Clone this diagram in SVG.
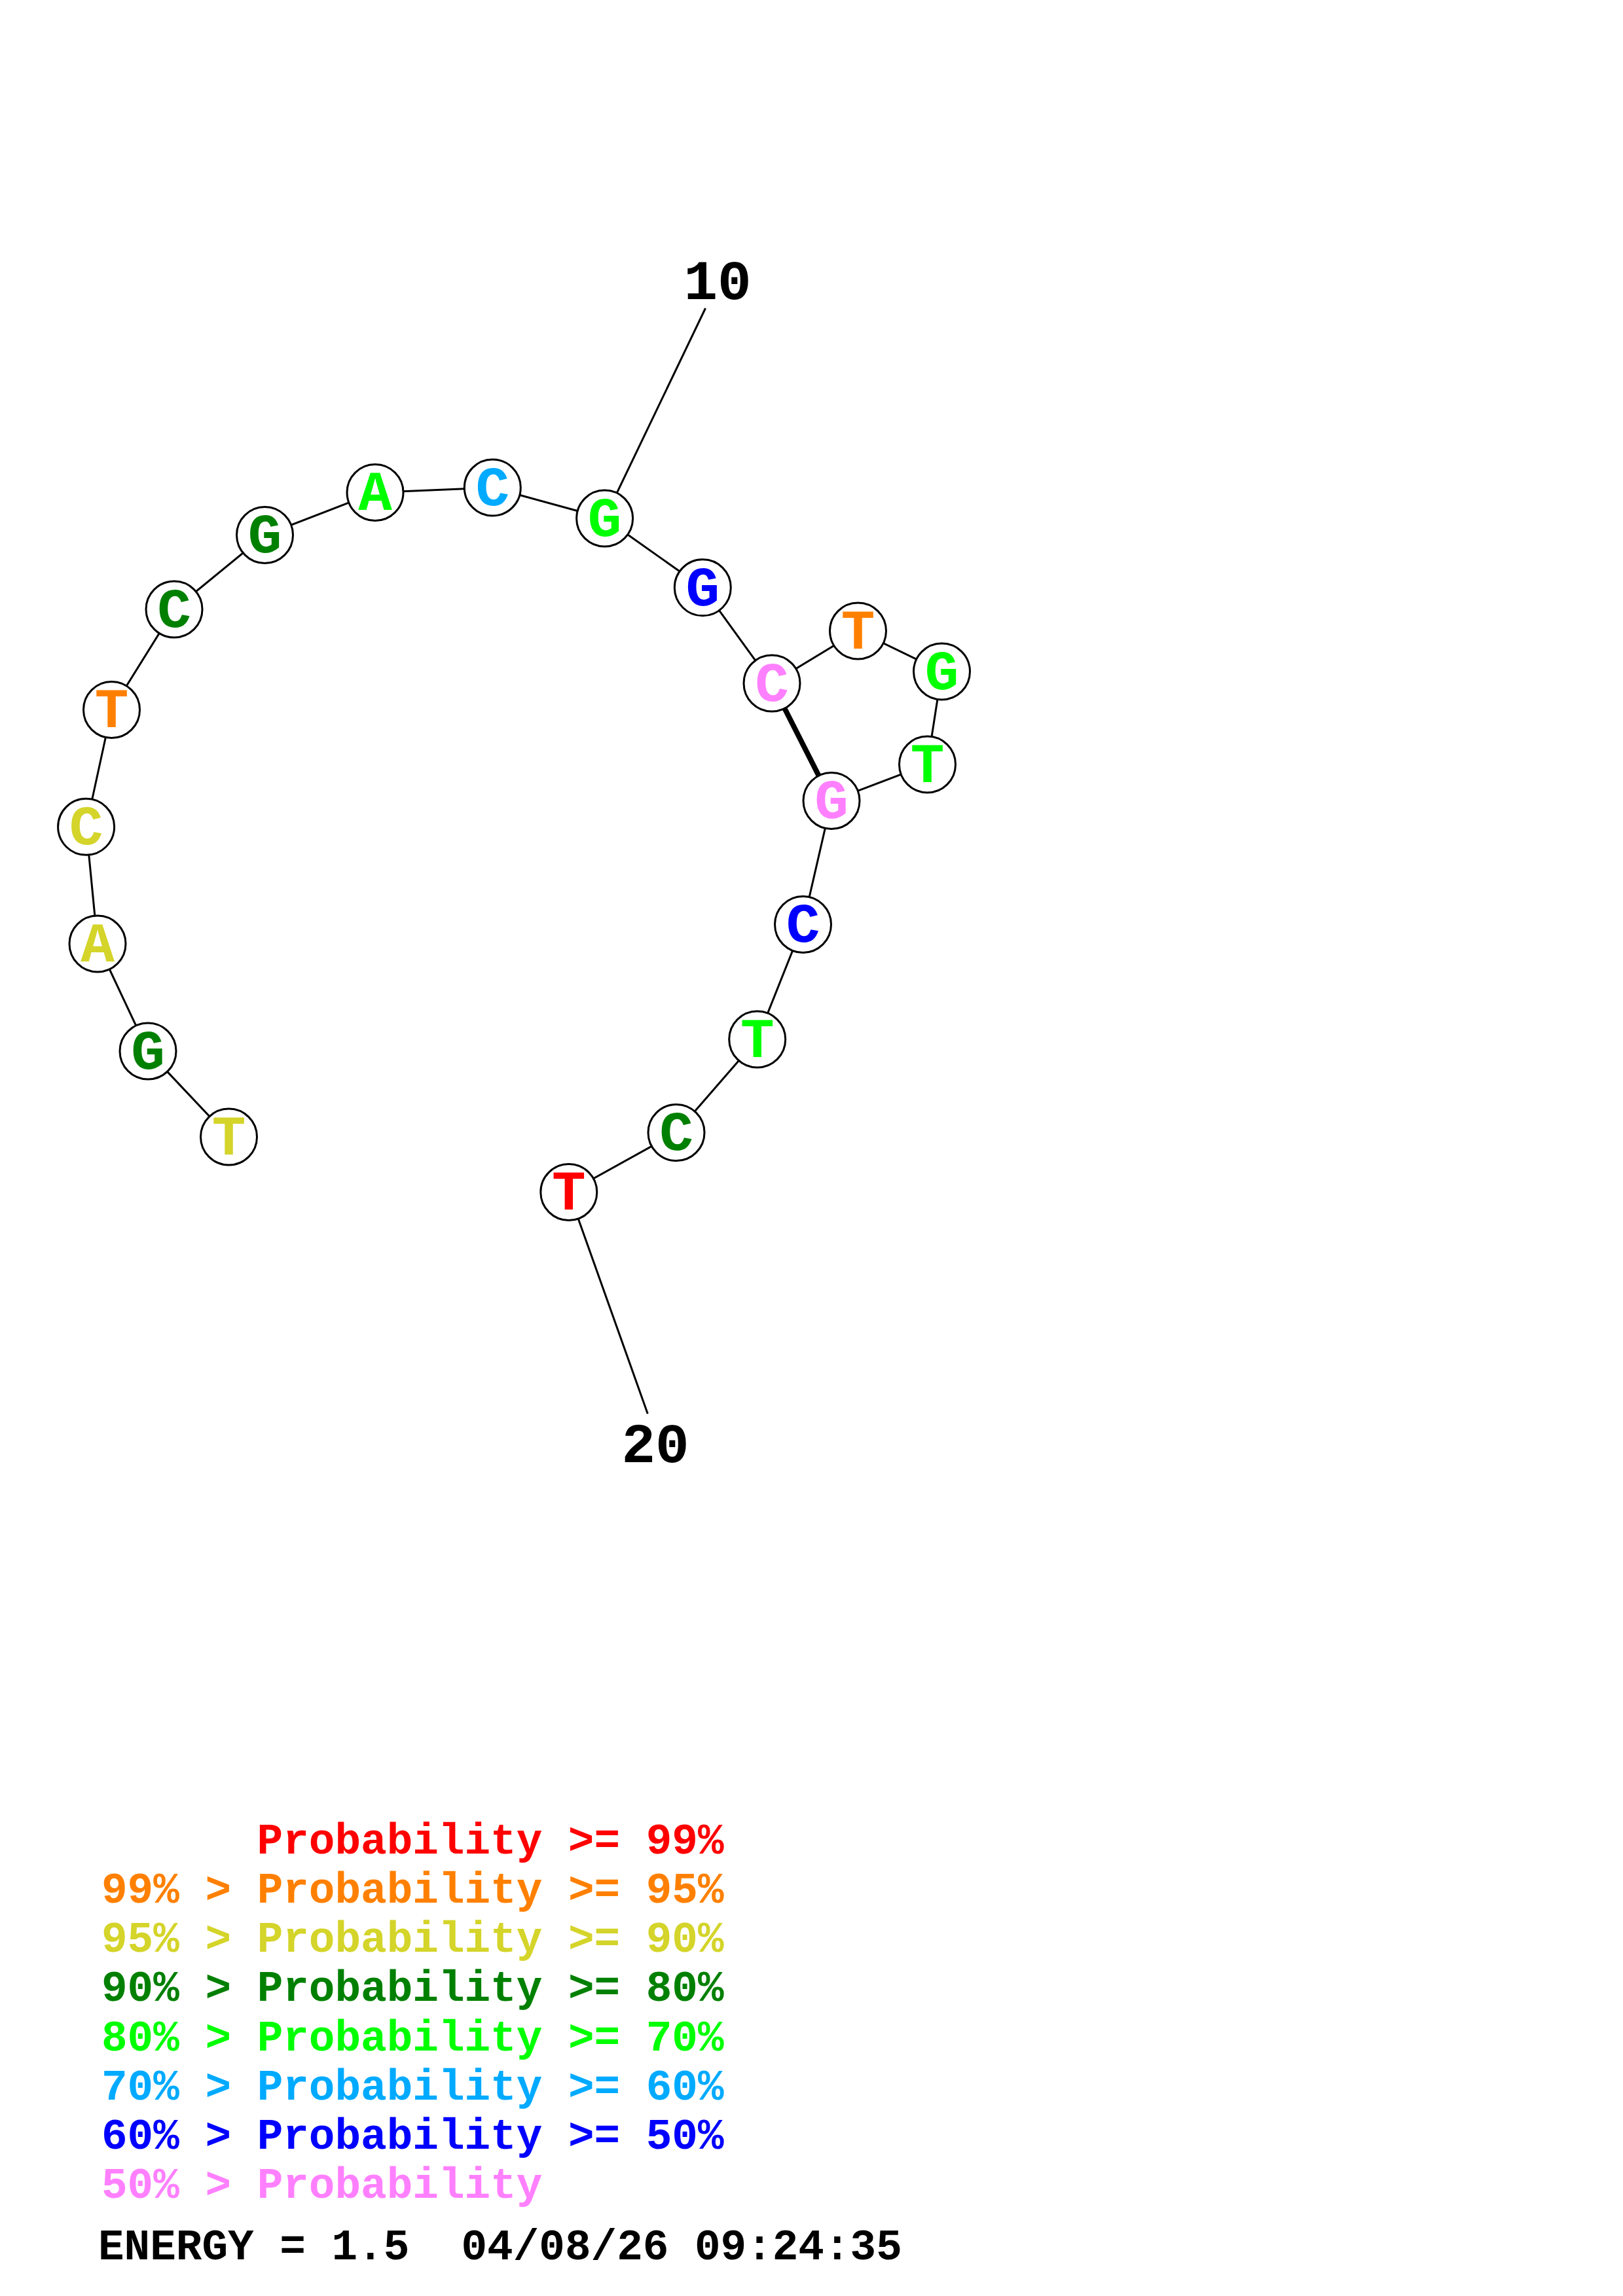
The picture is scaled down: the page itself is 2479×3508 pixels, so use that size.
<svg xmlns="http://www.w3.org/2000/svg" width="2479" height="3508" viewBox="0 0 2479 3508">
<style>
.bg{fill:#ffffff}
.ln{stroke:#000;stroke-width:3;fill:none}
.pair{stroke:#000;stroke-width:8;fill:none}
.nd{fill:#fff;stroke:#000;stroke-width:3}
.b{font-family:"Liberation Mono","Courier New",monospace;font-weight:bold;font-size:86px;text-anchor:middle}
.num{font-family:"Liberation Mono","Courier New",monospace;font-weight:bold;font-size:86px;text-anchor:middle;fill:#000}
.lg{font-family:"Liberation Mono","Courier New",monospace;font-weight:bold;font-size:66px}
.red{fill:#ff0000}.org{fill:#ff8000}.yel{fill:#d4d42a}.dgr{fill:#008000}.grn{fill:#00ff00}.lbl{fill:#00aaff}.blu{fill:#0000ff}.pnk{fill:#ff80ff}.blk{fill:#000}
</style>
<rect class="bg" x="0" y="0" width="2479" height="3508"/>
<g id="connectors">
<polyline class="ln" points="349.5,1737 226,1606 149,1442 131.6,1263.3 170.5,1084.5 266,931 404.5,817.5 573,752.5 752.3,745 923.6,792 1073.3,897.8 1179,1044 1310.5,964 1438.5,1026 1416.5,1168 1270,1223.5 1226.5,1412.5 1156.7,1588 1033,1730.5 868.8,1821.5"/>
<line class="pair" x1="1179" y1="1044" x2="1270" y2="1223.5"/>
<line class="ln" x1="923.6" y1="792" x2="1077.5" y2="471"/>
<line class="ln" x1="868.8" y1="1821.5" x2="989.3" y2="2160"/>
</g>
<g id="label10"><text class="num" x="1096" y="457">10</text></g>
<g id="label20"><text class="num" x="1001" y="2234">20</text></g>
<g id="n1"><circle class="nd" cx="349.5" cy="1737" r="43"/><text class="b yel" x="349.5" y="1764">T</text></g>
<g id="n2"><circle class="nd" cx="226" cy="1606" r="43"/><text class="b dgr" x="226" y="1633">G</text></g>
<g id="n3"><circle class="nd" cx="149" cy="1442" r="43"/><text class="b yel" x="149" y="1469">A</text></g>
<g id="n4"><circle class="nd" cx="131.6" cy="1263.3" r="43"/><text class="b yel" x="131.6" y="1290">C</text></g>
<g id="n5"><circle class="nd" cx="170.5" cy="1084.5" r="43"/><text class="b org" x="170.5" y="1111">T</text></g>
<g id="n6"><circle class="nd" cx="266" cy="931" r="43"/><text class="b dgr" x="266" y="958">C</text></g>
<g id="n7"><circle class="nd" cx="404.5" cy="817.5" r="43"/><text class="b dgr" x="404.5" y="844">G</text></g>
<g id="n8"><circle class="nd" cx="573" cy="752.5" r="43"/><text class="b grn" x="573" y="779">A</text></g>
<g id="n9"><circle class="nd" cx="752.3" cy="745" r="43"/><text class="b lbl" x="752.3" y="772">C</text></g>
<g id="n10"><circle class="nd" cx="923.6" cy="792" r="43"/><text class="b grn" x="923.6" y="819">G</text></g>
<g id="n11"><circle class="nd" cx="1073.3" cy="897.8" r="43"/><text class="b blu" x="1073.3" y="925">G</text></g>
<g id="n12"><circle class="nd" cx="1179" cy="1044" r="43"/><text class="b pnk" x="1179" y="1071">C</text></g>
<g id="n13"><circle class="nd" cx="1310.5" cy="964" r="43"/><text class="b org" x="1310.5" y="991">T</text></g>
<g id="n14"><circle class="nd" cx="1438.5" cy="1026" r="43"/><text class="b grn" x="1438.5" y="1053">G</text></g>
<g id="n15"><circle class="nd" cx="1416.5" cy="1168" r="43"/><text class="b grn" x="1416.5" y="1195">T</text></g>
<g id="n16"><circle class="nd" cx="1270" cy="1223.5" r="43"/><text class="b pnk" x="1270" y="1250">G</text></g>
<g id="n17"><circle class="nd" cx="1226.5" cy="1412.5" r="43"/><text class="b blu" x="1226.5" y="1439">C</text></g>
<g id="n18"><circle class="nd" cx="1156.7" cy="1588" r="43"/><text class="b grn" x="1156.7" y="1615">T</text></g>
<g id="n19"><circle class="nd" cx="1033" cy="1730.5" r="43"/><text class="b dgr" x="1033" y="1757">C</text></g>
<g id="n20"><circle class="nd" cx="868.8" cy="1821.5" r="43"/><text class="b red" x="868.8" y="1848">T</text></g>
<g id="legend" class="lg">
<text class="red" x="392.6" y="2832">Probability &gt;= 99%</text>
<text class="org" x="155" y="2907">99% &gt; Probability &gt;= 95%</text>
<text class="yel" x="155" y="2982">95% &gt; Probability &gt;= 90%</text>
<text class="dgr" x="155" y="3057">90% &gt; Probability &gt;= 80%</text>
<text class="grn" x="155" y="3133">80% &gt; Probability &gt;= 70%</text>
<text class="lbl" x="155" y="3208">70% &gt; Probability &gt;= 60%</text>
<text class="blu" x="155" y="3283">60% &gt; Probability &gt;= 50%</text>
<text class="pnk" x="155" y="3358">50% &gt; Probability</text>
<text class="blk" x="150" y="3452">ENERGY = 1.5 &#160;04/08/26 09:24:35</text>
</g>
</svg>
